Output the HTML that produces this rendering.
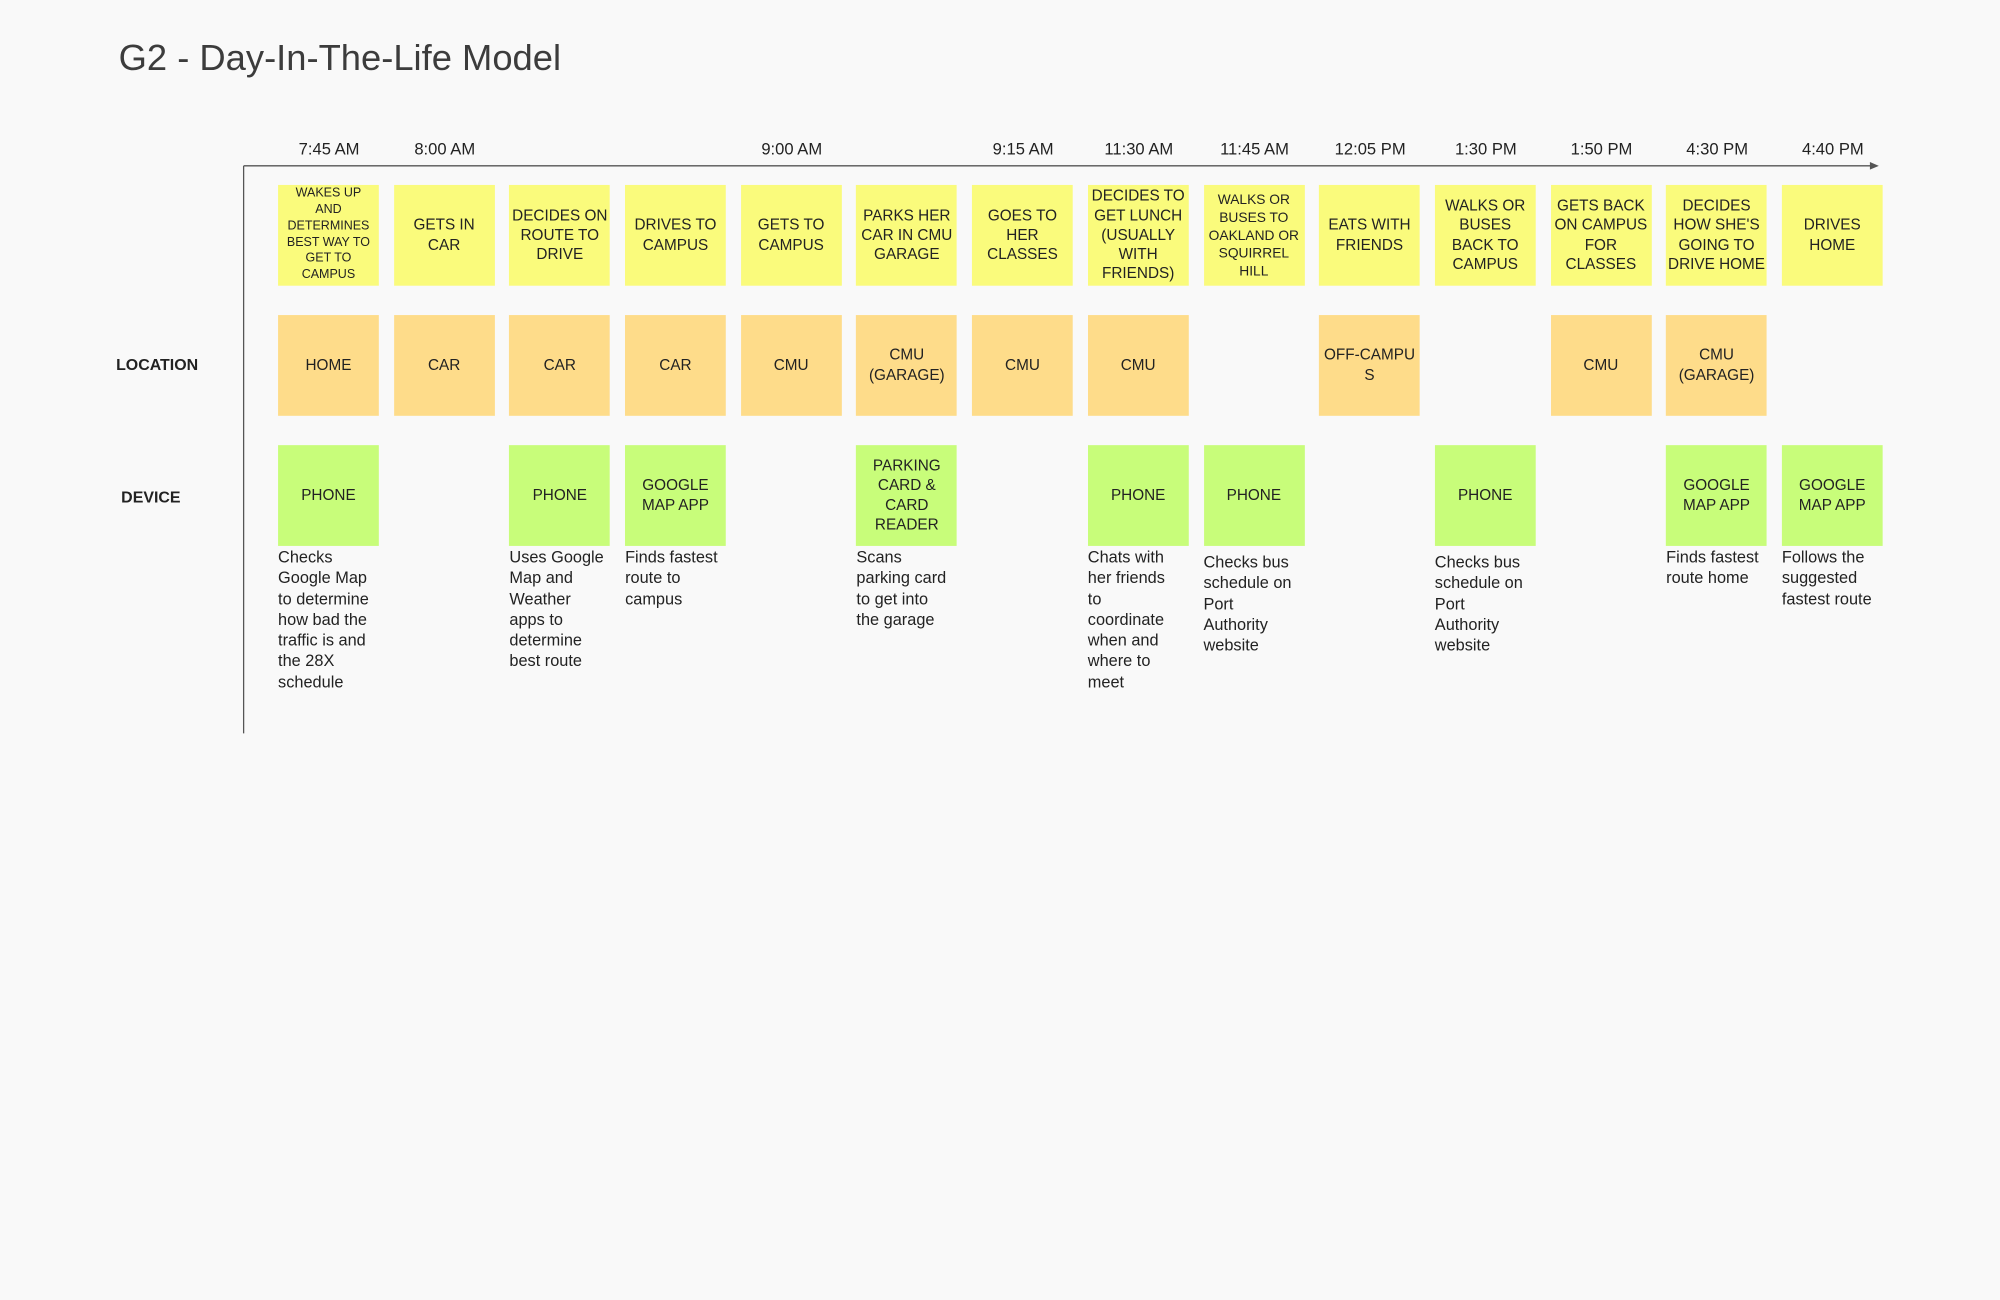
<!DOCTYPE html>
<html><head><meta charset="utf-8">
<style>
html,body{margin:0;padding:0;background:#f9f9f9;}
#root{position:absolute;left:0;top:0;width:1568px;height:1019px;transform:scale(1.27551);transform-origin:0 0;font-family:"Liberation Sans",sans-serif;color:#222;}
.title{position:absolute;left:93px;top:30px;font-size:28.5px;color:#3c3c3c;white-space:nowrap;}
.time{position:absolute;top:109px;width:80px;text-align:center;font-size:13px;}
.note{position:absolute;width:79px;height:79px;display:flex;align-items:center;justify-content:center;text-align:center;font-size:12px;line-height:15.3px;white-space:pre-line;text-transform:uppercase;overflow-wrap:anywhere;}
.y{background:#fafb7c;}.o{background:#fedc8a;}.g{background:#c8fd7a;}
.desc{position:absolute;width:86px;font-size:12.8px;line-height:16.3px;white-space:pre-line;}
.rl{position:absolute;font-weight:bold;font-size:12.5px;}
</style></head><body>
<div id="root">
<div class="title">G2 - Day-In-The-Life Model</div>
<svg style="position:absolute;left:0;top:0" width="1568" height="1019">
<line x1="191" y1="130" x2="1470" y2="130" stroke="#555" stroke-width="1"/>
<polygon points="1473,130 1466,127 1466,133" fill="#555"/>
<line x1="191" y1="130" x2="191" y2="575" stroke="#555" stroke-width="1"/>
</svg>
<div class="rl" style="left:91px;top:279px">LOCATION</div>
<div class="rl" style="left:95px;top:383px">DEVICE</div>
</div>
<script>
const times=["7:45 AM","8:00 AM","","","9:00 AM","","9:15 AM","11:30 AM","11:45 AM","12:05 PM","1:30 PM","1:50 PM","4:30 PM","4:40 PM"];
const events=["Wakes up\nand\ndetermines\nbest way to\nget to\ncampus","Gets in\ncar","Decides on\nroute to\ndrive","Drives to\ncampus","Gets to\ncampus","Parks her\ncar in CMU\ngarage","Goes to\nher\nclasses","Decides to\nget lunch\n(usually\nwith\nfriends)","Walks or\nbuses to\nOakland or\nSquirrel\nHill","Eats with\nfriends","Walks or\nbuses\nback to\ncampus","Gets back\non campus\nfor\nclasses","Decides\nhow she's\ngoing to\ndrive home","Drives\nhome"];
const locations=["Home","Car","Car","Car","CMU","CMU\n(Garage)","CMU","CMU","","Off-campu\ns","","CMU","CMU\n(Garage)",""];
const devices=["Phone","","Phone","Google\nMap App","","Parking\ncard &\ncard\nreader","","Phone","Phone","","Phone","","Google\nMap App","Google\nMap App"];
const descs=["Checks\nGoogle Map\nto determine\nhow bad the\ntraffic is and\nthe 28X\nschedule","","Uses Google\nMap and\nWeather\napps to\ndetermine\nbest route","Finds fastest\nroute to\ncampus","","Scans\nparking card\nto get into\nthe garage","","Chats with\nher friends\nto\ncoordinate\nwhen and\nwhere to\nmeet","Checks bus\nschedule on\nPort\nAuthority\nwebsite","","Checks bus\nschedule on\nPort\nAuthority\nwebsite","","Finds fastest\nroute home","Follows the\nsuggested\nfastest route"];
const root=document.getElementById('root');
const x0=218,pitch=90.69;
function colX(i){return x0+i*pitch;}
function add(cls,txt,x,y,extra){const d=document.createElement('div');d.className=cls;d.textContent=txt;d.style.left=x+'px';d.style.top=y+'px';if(extra)d.style.cssText+=extra;root.appendChild(d);return d;}
times.forEach((t,i)=>{if(!t)return;const d=add('time',t,colX(i),109);

});
events.forEach((t,i)=>{const d=add('note y',t,colX(i),145,i==0?'font-size:9.8px;line-height:12.7px;':(i==8?'font-size:10.8px;line-height:14px;':''));

});
locations.forEach((t,i)=>{if(!t)return;const d=add('note o',t,colX(i),247);

});
devices.forEach((t,i)=>{if(!t)return;const d=add('note g',t,colX(i),349);

});
descs.forEach((t,i)=>{if(!t)return;const d=add('desc',t,colX(i),(i==8||i==10)?433:429);

});
</script>
</body></html>
